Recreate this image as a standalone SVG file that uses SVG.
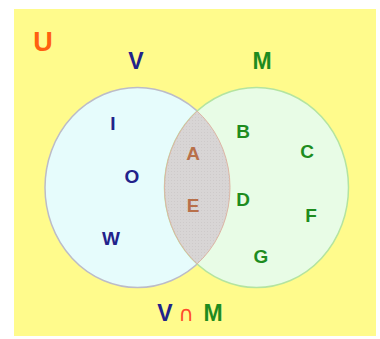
<svg xmlns="http://www.w3.org/2000/svg" width="380" height="339" viewBox="0 0 380 339">
<style>
text{font-family:"Liberation Sans",Arial,sans-serif;font-weight:bold;text-anchor:middle}
.v{fill:#22228a}
.m{fill:#1e8c1e}
.i{fill:#b8704a}
.s{font-size:19px}
.l{font-size:23px}
</style>
<defs>
<pattern id="hatch" width="3" height="3" patternUnits="userSpaceOnUse">
<rect width="3" height="3" fill="#d8d5d5"/>
<rect width="1" height="1" fill="#cecaca"/>
</pattern>
<clipPath id="clipV"><ellipse cx="137.5" cy="187.5" rx="92.5" ry="100"/></clipPath>
<clipPath id="clipM"><ellipse cx="256.5" cy="187.5" rx="92" ry="100"/></clipPath>
</defs>
<rect x="0" y="0" width="380" height="339" fill="#ffffff"/>
<rect id="universe" x="14" y="9" width="362" height="327" fill="#fffb8c"/>
<g id="setV"><ellipse cx="137.5" cy="187.5" rx="92.5" ry="100" fill="#e6fcfc" stroke="#bcbcc8" stroke-width="1.5"/></g>
<g id="setM"><ellipse cx="256.5" cy="187.5" rx="92" ry="100" fill="#e8fce6" stroke="#b4e4a0" stroke-width="1.5"/></g>
<g id="intersection">
<ellipse cx="256.5" cy="187.5" rx="92" ry="100" fill="url(#hatch)" stroke="#dcb4a4" stroke-width="1" clip-path="url(#clipV)"/>
<ellipse cx="137.5" cy="187.5" rx="92.5" ry="100" fill="none" stroke="#dcb4a4" stroke-width="1" clip-path="url(#clipM)"/>
</g>
<g id="labels">
<text x="43" y="51" style="font-size:27px;fill:#ff6010">U</text>
<text class="v l" x="136" y="69">V</text>
<text class="m l" x="262" y="69">M</text>
</g>
<g id="elements">
<text class="v s" x="113" y="130">I</text>
<text class="v s" x="132" y="183">O</text>
<text class="v s" x="111" y="245">W</text>
<text class="i s" x="193" y="160">A</text>
<text class="i s" x="193" y="212">E</text>
<text class="m s" x="243" y="138">B</text>
<text class="m s" x="307" y="158">C</text>
<text class="m s" x="243" y="206">D</text>
<text class="m s" x="311" y="222">F</text>
<text class="m s" x="261" y="263">G</text>
</g>
<g id="caption">
<text class="v l" x="165" y="321">V</text>
<text x="186" y="321" style="font-size:21px;fill:#ff4a2a;font-family:'DejaVu Sans',sans-serif;font-weight:normal">∩</text>
<text class="m l" x="213" y="321">M</text>
</g>
</svg>
